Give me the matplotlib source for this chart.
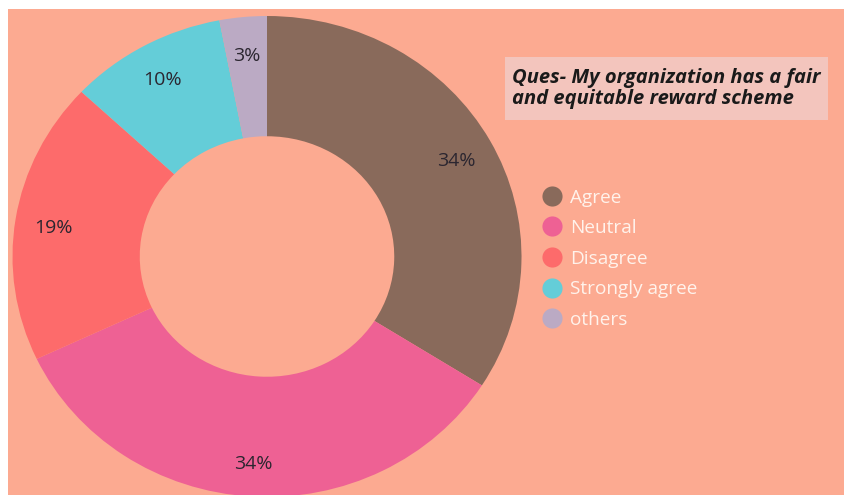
import matplotlib
matplotlib.use("Agg")
import matplotlib.pyplot as plt
from matplotlib.lines import Line2D
from matplotlib.patches import Rectangle
from matplotlib.transforms import offset_copy

# --- Survey answers ---
CATEGORIES = ["Agree", "Neutral", "Disagree", "Strongly agree", "others"]
SHARES = [34, 34, 19, 10, 3]
COLORS = ["#896A5B", "#EE6194", "#FD6B6B", "#64CDD8", "#BBAAC4"]
TITLE = "Ques- My organization has a fair\nand equitable reward scheme"

BG = "#FCAA91"
W, H = 845, 495

plt.rcParams["font.family"] = ["Open Sans", "DejaVu Sans"]

fig = plt.figure(figsize=(W / 100, H / 100), dpi=100, facecolor="white")

# salmon panel with a thin white margin on the left and top (behind the axes)
fig.patches.append(Rectangle((8 / W, 0), 1 - 8 / W, 1 - 9 / H,
                             transform=fig.transFigure, facecolor=BG,
                             edgecolor="none", zorder=-5))

# donut, slightly squashed vertically
ax = fig.add_axes([12.5 / W, -2 / H, 509 / W, 481 / H])
ax.set_facecolor("none")
wedges, _, autotexts = ax.pie(
    SHARES, colors=COLORS, startangle=90, counterclock=False,
    autopct=lambda p: f"{p:.0f}%", pctdistance=0.85,
    wedgeprops=dict(width=0.5, edgecolor="none"),
    textprops=dict(fontsize=14, color="#2b2630"),
)
# nudge the percentage labels down a little
for t in autotexts:
    t.set_transform(offset_copy(ax.transData, fig=fig, x=0, y=-3, units="dots"))
ax.set_aspect("auto")
ax.set_xlim(-1, 1)
ax.set_ylim(-1, 1)
ax.axis("off")

# title box
fig.patches.append(Rectangle((505 / W, 1 - 120 / H), 323 / W, 63 / H,
                             transform=fig.transFigure, facecolor="#F3C5BD",
                             edgecolor="none", zorder=1))
fig.text(512 / W, 1 - 88.5 / H, TITLE, fontsize=14.5, fontweight="bold",
         fontstyle="italic", color="#1a1a1a", ha="left", va="center",
         linespacing=1.12, zorder=2)

# legend
handles = [Line2D([], [], linestyle="none", marker="o", markersize=14.5,
                  markerfacecolor=c, markeredgecolor="none") for c in COLORS]
fig.legend(handles, CATEGORIES, loc="upper left",
           bbox_to_anchor=(531 / W, 1 - 179 / H), frameon=False,
           fontsize=13.7, labelcolor="#FFF3EC", handlelength=1.2,
           handletextpad=0.35, labelspacing=0.66, borderpad=0)

fig.savefig("out.png", dpi=100, facecolor="white")
